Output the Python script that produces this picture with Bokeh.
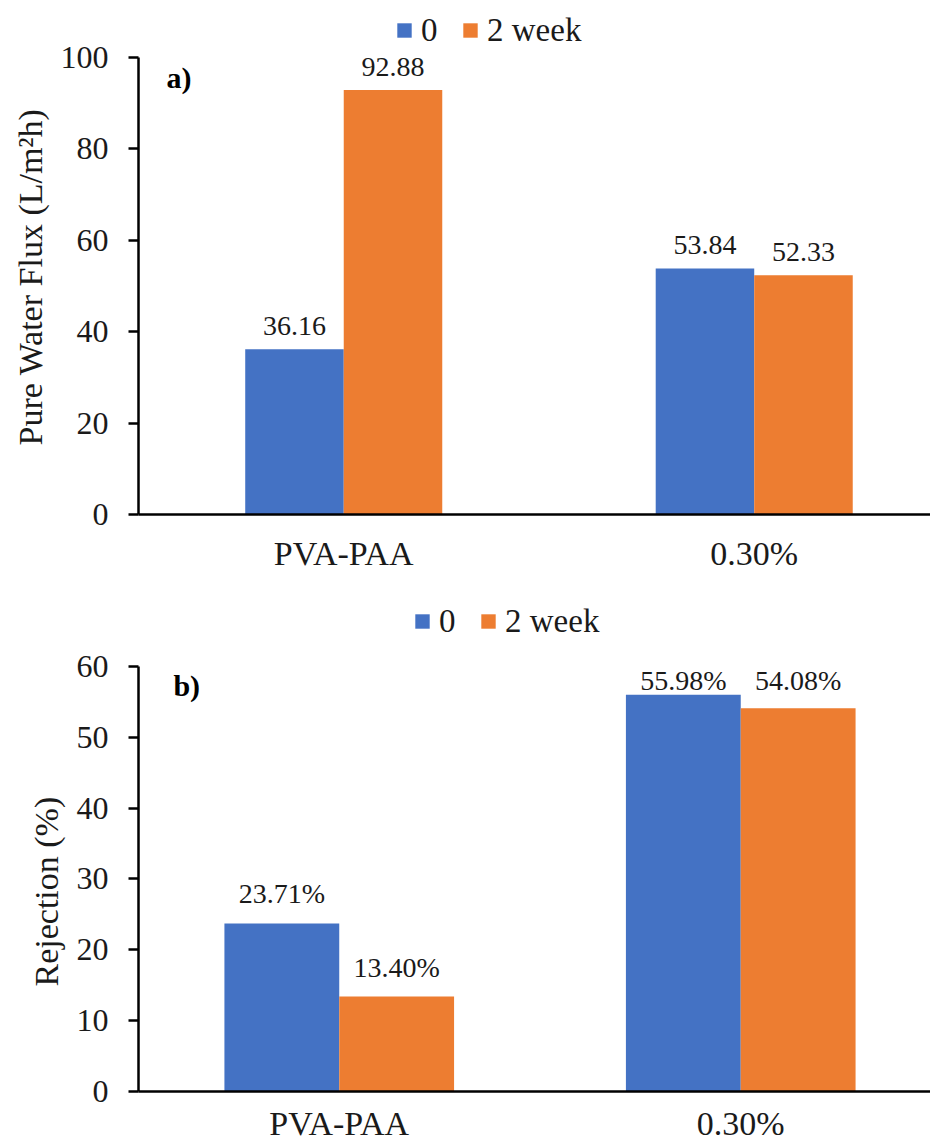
from bokeh.plotting import figure
from bokeh.layouts import column
from bokeh.models import (Range1d, FixedTicker, Legend, LegendItem, Label,
                          ColumnDataSource, Title)
from bokeh.core.properties import value
from bokeh.embed import file_html
from bokeh.resources import INLINE

# ---------------- data ----------------
categories = ["PVA-PAA", "0.30%"]
series = ["0", "2 week"]
flux_0 = [36.16, 53.84]
flux_2w = [92.88, 52.33]
rej_0 = [23.71, 55.98]
rej_2w = [13.40, 54.08]
flux_ticks = [0, 20, 40, 60, 80, 100]
rej_ticks = [0, 10, 20, 30, 40, 50, 60]
colors = ["#4472C4", "#ED7D31"]

FONT = "Liberation Serif"


def make_panel(vals, ticks, ylabel, tag, suffix, height, frame_px, plot_px,
               bottom, x_end, bar_w, legend_xy, tag_xy, x_standoff,
               label_cap, title_offset):
    # frame extends above the axis top so the legend can sit inside it
    y_top = ticks[-1] * frame_px / plot_px
    p = figure(width=930, height=height, output_backend="svg",
               toolbar_location=None,
               x_range=Range1d(0, x_end),
               y_range=Range1d(ticks[0], y_top),
               min_border_left=137, min_border_right=0,
               min_border_top=0, min_border_bottom=bottom)
    p.outline_line_color = None
    p.xgrid.visible = False
    p.ygrid.visible = False
    p.background_fill_color = "white"
    p.border_fill_color = "white"

    centers = [i + 0.5 for i in range(len(categories))]
    offsets = [-bar_w / 2, bar_w / 2]
    renderers = []
    for v, c, off in zip(vals, colors, offsets):
        src = ColumnDataSource(dict(
            x=[ci + off for ci in centers],
            top=v,
            ly=[min(x, label_cap) for x in v],
            lab=[f"{x:.2f}{suffix}" for x in v],
        ))
        r = p.vbar(x="x", top="top", width=bar_w, bottom=0, source=src,
                   fill_color=c, line_color=None)
        renderers.append(r)
        p.text(x="x", y="ly", text="lab", source=src,
               text_align="center", text_baseline="bottom", y_offset=-14,
               text_font=value(FONT), text_font_size="28px",
               text_color="#1a1a1a")

    # x axis
    xa = p.xaxis[0]
    xa.ticker = FixedTicker(ticks=centers)
    xa.major_label_overrides = {c: lab for c, lab in zip(centers, categories)}
    xa.major_tick_line_color = None
    xa.minor_tick_line_color = None
    xa.axis_line_width = 2.5
    xa.axis_line_color = "black"
    xa.major_label_text_font = FONT
    xa.major_label_text_font_size = "34px"
    xa.major_label_text_color = "#1a1a1a"
    xa.major_label_standoff = x_standoff

    # y axis
    ya = p.yaxis[0]
    ya.ticker = FixedTicker(ticks=ticks)
    ya.bounds = (ticks[0], ticks[-1])
    ya.major_tick_out = 10
    ya.major_tick_in = 0
    ya.major_tick_line_width = 2.5
    ya.minor_tick_line_color = None
    ya.axis_line_width = 2.5
    ya.axis_line_color = "black"
    ya.major_label_text_font = FONT
    ya.major_label_text_font_size = "32px"
    ya.major_label_text_color = "#1a1a1a"
    ya.major_label_standoff = 20

    p.add_layout(Title(text=ylabel, align="left", offset=title_offset,
                       standoff=18, text_font=FONT, text_font_size="34px",
                       text_font_style="normal", text_color="#1a1a1a"),
                 "left")

    legend = Legend(
        items=[LegendItem(label=s, renderers=[r]) for s, r in zip(series, renderers)],
        orientation="horizontal", location=legend_xy,
        border_line_color=None, background_fill_alpha=0,
        padding=0, margin=0, spacing=20, label_standoff=8,
        glyph_width=18, glyph_height=18,
        label_text_font=FONT, label_text_font_size="33px",
        label_text_color="#1a1a1a",
    )
    p.add_layout(legend)

    p.add_layout(Label(x=tag_xy[0], y=tag_xy[1], text=tag,
                       text_font=FONT, text_font_size="30px",
                       text_font_style="bold", text_baseline="middle",
                       text_color="black"))
    return p


p1 = make_panel([flux_0, flux_2w], flux_ticks, "Pure Water Flux (L/m\u00b2h)",
                "a)", "", height=590, frame_px=514, plot_px=457, bottom=76,
                x_end=793 / 411, bar_w=0.24, legend_xy=(257, 465.5),
                tag_xy=(0.068, 95.6), x_standoff=14, label_cap=100,
                title_offset=69)
p2 = make_panel([rej_0, rej_2w], rej_ticks, "Rejection (%)",
                "b)", "%", height=554, frame_px=502, plot_px=426, bottom=52,
                x_end=793 / 402, bar_w=0.286, legend_xy=(275, 451.5),
                tag_xy=(0.087, 57.3), x_standoff=7, label_cap=53.8,
                title_offset=105)

layout = column(p1, p2, spacing=0)
open("out.html", "w").write(file_html(layout, INLINE))
